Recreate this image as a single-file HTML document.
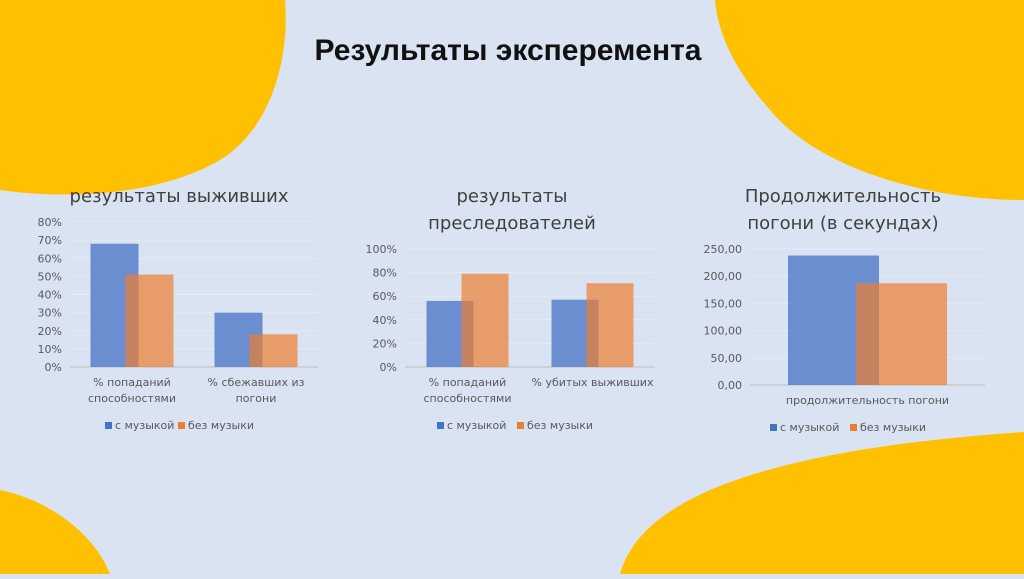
<!DOCTYPE html>
<html><head><meta charset="utf-8"><style>
html,body{margin:0;padding:0}
body{width:1024px;height:574px;overflow:hidden;background:#dae3f1;font-family:"Liberation Sans","DejaVu Sans",sans-serif}
svg text{font-family:"DejaVu Sans","Liberation Sans",sans-serif}
</style></head><body>
<svg id="s" width="1024" height="574" viewBox="0 0 1024 574">
<path d="M0,0 L285,0 C290,60 270,130 220,160 C160,195 70,200 0,190 Z" fill="#ffc000"/>
<path d="M715,0 L1024,0 L1024,200 C930,200 820,170 770,110 C735,70 718,35 715,0 Z" fill="#ffc000"/>
<path d="M0,490 C50,500 95,535 110,574 L0,574 Z" fill="#ffc000"/>
<path d="M620,574 C640,500 760,450 1024,432 L1024,574 Z" fill="#ffc000"/>
<text x="508" y="60" text-anchor="middle" font-size="30" font-weight="bold" fill="#111" style="font-family:'Liberation Sans',sans-serif">Результаты эксперемента</text>
<g id="charts"></g>
</svg>
<script>
const c1Cats=["% попаданий|способностями","% сбежавших из|погони"];
const c1Music=[68,30];
const c1NoMusic=[51,18];
const c1Ticks=["0%","10%","20%","30%","40%","50%","60%","70%","80%"];
const c2Cats=["% попаданий|способностями","% убитых выживших"];
const c2Music=[56,57];
const c2NoMusic=[79,71];
const c2Ticks=["0%","20%","40%","60%","80%","100%"];
const c3Cats=["продолжительность погони"];
const c3Music=[238];
const c3NoMusic=[187];
const c3Ticks=["0,00","50,00","100,00","150,00","200,00","250,00"];
const NS="http://www.w3.org/2000/svg";
const root=document.getElementById('charts');
function mk(tag,attrs,parent){const e=document.createElementNS(NS,tag);for(const k in attrs)e.setAttribute(k,attrs[k]);(parent||root).appendChild(e);return e;}
function chart(o){
  const g=mk('g',{});
  
  
  o.title.forEach((t,i)=>{const e=mk('text',{x:o.tx,y:o.ty+i*27,'text-anchor':'middle','font-size':18,fill:'#404040'},g);e.textContent=t;
    });
  const n=o.ticks.length-1;
  const y=v=>o.base-(v/o.max)*(o.base-o.top);
  o.ticks.forEach((t,i)=>{const v=o.max*i/n;const yy=y(v);
    const l=mk('line',{x1:o.x0,x2:o.x1,y1:yy,y2:yy,stroke:i==0?'#bfbfbf':'#e6ebf4','stroke-width':1},g);
    
    const e=mk('text',{x:o.x0-8,y:yy+4,'text-anchor':'end','font-size':11,fill:'#595959'},g);e.textContent=t;
    });
  const cw=(o.x1-o.x0)/o.cats.length;
  o.cats.forEach((c,i)=>{
    const cx=o.x0+cw*(i+0.5);
    const b=mk('rect',{x:cx-o.bw+o.ov/2-o.bw/2+o.bw/2- o.bw/2, y:y(o.m[i]),width:o.bw,height:o.base-y(o.m[i]),fill:'#4472c4','fill-opacity':0.75},g);
    b.setAttribute('x',cx-o.bw+o.ov/2);
    
    const r=mk('rect',{x:cx-o.ov/2,y:y(o.nm[i]),width:o.bw,height:o.base-y(o.nm[i]),fill:'#ed7d31','fill-opacity':0.7},g);
    
    c.split('|').forEach((s,j)=>{const e=mk('text',{x:cx,y:o.base+19+j*16,'text-anchor':'middle','font-size':11,fill:'#595959'},g);e.textContent=s;
      });
  });
  const lx=o.lx, ly=o.ly;
  [['#4472c4','с музыкой',0],['#ed7d31','без музыки',o.lgap]].forEach(a=>{
    const s=mk('rect',{x:lx+a[2],y:ly-7,width:7,height:7,fill:a[0]},g);
    
    const e=mk('text',{x:lx+a[2]+10,y:ly,'font-size':11,fill:'#595959'},g);e.textContent=a[1];
    
  });
}
chart({name:'chart-survivors',title:['результаты выживших'],tx:179,ty:202,x0:70,x1:318,base:367,top:222,max:80,ticks:c1Ticks,cats:c1Cats,m:c1Music,nm:c1NoMusic,bw:48,ov:13,lx:105,ly:429,lgap:73});
chart({name:'chart-chasers',title:['результаты','преследователей'],tx:512,ty:202,x0:405,x1:655,base:367,top:249,max:100,ticks:c2Ticks,cats:c2Cats,m:c2Music,nm:c2NoMusic,bw:47,ov:12,lx:437,ly:429,lgap:80});
chart({name:'chart-chase-duration',title:['Продолжительность','погони  (в секундах)'],tx:843,ty:202,x0:750,x1:985,base:385,top:249,max:250,ticks:c3Ticks,cats:c3Cats,m:c3Music,nm:c3NoMusic,bw:91,ov:23,lx:770,ly:431,lgap:80});
</script>
</body></html>
